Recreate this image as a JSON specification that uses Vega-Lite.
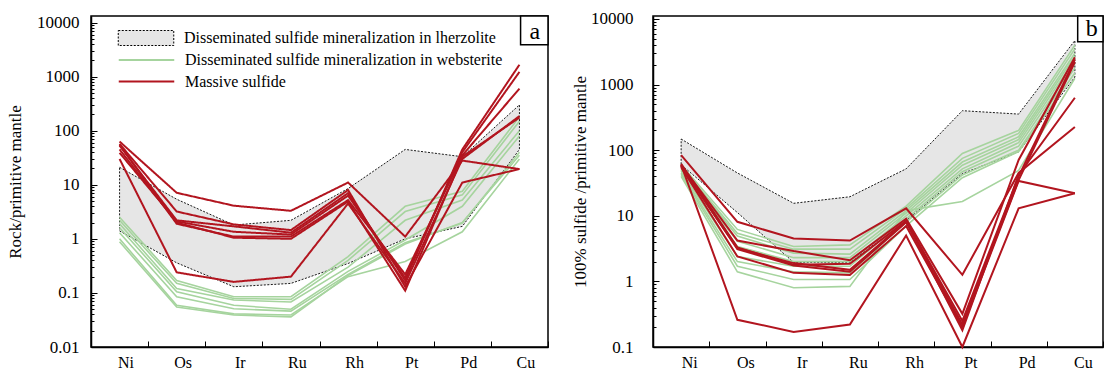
{
  "$schema": "https://vega.github.io/schema/vega-lite/v6.json",
  "padding": {"left": 5, "top": 9, "right": 0, "bottom": 0},
  "spacing": 20,
  "config": {
    "view": {"stroke": "black", "strokeWidth": 1.5},
    "font": "Liberation Serif",
    "axis": {"domainColor": "black", "domainWidth": 1.5, "tickColor": "black", "tickWidth": 1, "labelColor": "black", "titleColor": "black", "labelFont": "Liberation Serif", "titleFont": "Liberation Serif", "titleFontWeight": "normal", "grid": false, "labelFontSize": 16, "titleFontSize": 17},
    "legend": {"orient": "none", "legendX": 47, "title": null, "padding": 0, "labelFont": "Liberation Serif", "labelFontSize": 16, "labelColor": "black", "labelLimit": 500, "labelOffset": 30, "rowPadding": 0, "symbolSize": 225, "symbolOpacity": 1}
  },
  "datasets": {
    "aband": [
      {"type": "L", "el": "Ni", "lo": 1.4, "hi": 21},
      {"type": "L", "el": "Os", "lo": 0.36, "hi": 5.4},
      {"type": "L", "el": "Ir", "lo": 0.13, "hi": 1.8},
      {"type": "L", "el": "Ru", "lo": 0.15, "hi": 2.2},
      {"type": "L", "el": "Rh", "lo": 0.35, "hi": 8.5},
      {"type": "L", "el": "Pt", "lo": 1.0, "hi": 45},
      {"type": "L", "el": "Pd", "lo": 1.7, "hi": 33},
      {"type": "L", "el": "Cu", "lo": 45, "hi": 300}
    ],
    "aw": [
      {"type": "W", "id": "W1", "el": "Ni", "v": 2.5}, {"type": "W", "id": "W1", "el": "Os", "v": 0.17}, {"type": "W", "id": "W1", "el": "Ir", "v": 0.085}, {"type": "W", "id": "W1", "el": "Ru", "v": 0.085}, {"type": "W", "id": "W1", "el": "Rh", "v": 0.47}, {"type": "W", "id": "W1", "el": "Pt", "v": 4.0}, {"type": "W", "id": "W1", "el": "Pd", "v": 7.6}, {"type": "W", "id": "W1", "el": "Cu", "v": 180},
      {"type": "W", "id": "W2", "el": "Ni", "v": 2.2}, {"type": "W", "id": "W2", "el": "Os", "v": 0.15}, {"type": "W", "id": "W2", "el": "Ir", "v": 0.079}, {"type": "W", "id": "W2", "el": "Ru", "v": 0.076}, {"type": "W", "id": "W2", "el": "Rh", "v": 0.4}, {"type": "W", "id": "W2", "el": "Pt", "v": 3.2}, {"type": "W", "id": "W2", "el": "Pd", "v": 6.5}, {"type": "W", "id": "W2", "el": "Cu", "v": 150},
      {"type": "W", "id": "W3", "el": "Ni", "v": 1.9}, {"type": "W", "id": "W3", "el": "Os", "v": 0.12}, {"type": "W", "id": "W3", "el": "Ir", "v": 0.074}, {"type": "W", "id": "W3", "el": "Ru", "v": 0.068}, {"type": "W", "id": "W3", "el": "Rh", "v": 0.3}, {"type": "W", "id": "W3", "el": "Pt", "v": 2.2}, {"type": "W", "id": "W3", "el": "Pd", "v": 5.2}, {"type": "W", "id": "W3", "el": "Cu", "v": 100},
      {"type": "W", "id": "W4", "el": "Ni", "v": 1.6}, {"type": "W", "id": "W4", "el": "Os", "v": 0.105}, {"type": "W", "id": "W4", "el": "Ir", "v": 0.059}, {"type": "W", "id": "W4", "el": "Ru", "v": 0.05}, {"type": "W", "id": "W4", "el": "Rh", "v": 0.25}, {"type": "W", "id": "W4", "el": "Pt", "v": 0.95}, {"type": "W", "id": "W4", "el": "Pd", "v": 4.0}, {"type": "W", "id": "W4", "el": "Cu", "v": 80},
      {"type": "W", "id": "W5", "el": "Ni", "v": 1.3}, {"type": "W", "id": "W5", "el": "Os", "v": 0.085}, {"type": "W", "id": "W5", "el": "Ir", "v": 0.051}, {"type": "W", "id": "W5", "el": "Ru", "v": 0.046}, {"type": "W", "id": "W5", "el": "Rh", "v": 0.22}, {"type": "W", "id": "W5", "el": "Pt", "v": 0.85}, {"type": "W", "id": "W5", "el": "Pd", "v": 1.95}, {"type": "W", "id": "W5", "el": "Cu", "v": 40},
      {"type": "W", "id": "W6", "el": "Ni", "v": 1.0}, {"type": "W", "id": "W6", "el": "Os", "v": 0.059}, {"type": "W", "id": "W6", "el": "Ir", "v": 0.041}, {"type": "W", "id": "W6", "el": "Ru", "v": 0.039}, {"type": "W", "id": "W6", "el": "Rh", "v": 0.2}, {"type": "W", "id": "W6", "el": "Pt", "v": 0.38}, {"type": "W", "id": "W6", "el": "Pd", "v": 1.35}, {"type": "W", "id": "W6", "el": "Cu", "v": 30},
      {"type": "W", "id": "W7", "el": "Ni", "v": 0.88}, {"type": "W", "id": "W7", "el": "Os", "v": 0.055}, {"type": "W", "id": "W7", "el": "Ir", "v": 0.039}, {"type": "W", "id": "W7", "el": "Ru", "v": 0.036}, {"type": "W", "id": "W7", "el": "Rh", "v": 0.21}, {"type": "W", "id": "W7", "el": "Pt", "v": 0.8}, {"type": "W", "id": "W7", "el": "Pd", "v": 2.0}, {"type": "W", "id": "W7", "el": "Cu", "v": 35}
    ],
    "am": [
      {"type": "M", "id": "M1", "el": "Ni", "v": 63}, {"type": "M", "id": "M1", "el": "Os", "v": 7.1}, {"type": "M", "id": "M1", "el": "Ir", "v": 4.1}, {"type": "M", "id": "M1", "el": "Ru", "v": 3.3}, {"type": "M", "id": "M1", "el": "Rh", "v": 11}, {"type": "M", "id": "M1", "el": "Pt", "v": 1.1}, {"type": "M", "id": "M1", "el": "Pd", "v": 28}, {"type": "M", "id": "M1", "el": "Cu", "v": 19.5},
      {"type": "M", "id": "M2", "el": "Ni", "v": 57}, {"type": "M", "id": "M2", "el": "Os", "v": 3.2}, {"type": "M", "id": "M2", "el": "Ir", "v": 1.85}, {"type": "M", "id": "M2", "el": "Ru", "v": 1.45}, {"type": "M", "id": "M2", "el": "Rh", "v": 8}, {"type": "M", "id": "M2", "el": "Pt", "v": 0.13}, {"type": "M", "id": "M2", "el": "Pd", "v": 11}, {"type": "M", "id": "M2", "el": "Cu", "v": 19.5},
      {"type": "M", "id": "M3", "el": "Ni", "v": 53}, {"type": "M", "id": "M3", "el": "Os", "v": 2.2}, {"type": "M", "id": "M3", "el": "Ir", "v": 1.7}, {"type": "M", "id": "M3", "el": "Ru", "v": 1.3}, {"type": "M", "id": "M3", "el": "Rh", "v": 7}, {"type": "M", "id": "M3", "el": "Pt", "v": 0.17}, {"type": "M", "id": "M3", "el": "Pd", "v": 45}, {"type": "M", "id": "M3", "el": "Cu", "v": 1660},
      {"type": "M", "id": "M4", "el": "Ni", "v": 39}, {"type": "M", "id": "M4", "el": "Os", "v": 2.1}, {"type": "M", "id": "M4", "el": "Ir", "v": 1.35}, {"type": "M", "id": "M4", "el": "Ru", "v": 1.2}, {"type": "M", "id": "M4", "el": "Rh", "v": 6.3}, {"type": "M", "id": "M4", "el": "Pt", "v": 0.19}, {"type": "M", "id": "M4", "el": "Pd", "v": 40}, {"type": "M", "id": "M4", "el": "Cu", "v": 1220},
      {"type": "M", "id": "M5", "el": "Ni", "v": 55}, {"type": "M", "id": "M5", "el": "Os", "v": 1.9}, {"type": "M", "id": "M5", "el": "Ir", "v": 1.1}, {"type": "M", "id": "M5", "el": "Ru", "v": 1.1}, {"type": "M", "id": "M5", "el": "Rh", "v": 5.2}, {"type": "M", "id": "M5", "el": "Pt", "v": 0.22}, {"type": "M", "id": "M5", "el": "Pd", "v": 35}, {"type": "M", "id": "M5", "el": "Cu", "v": 600},
      {"type": "M", "id": "M6", "el": "Ni", "v": 30}, {"type": "M", "id": "M6", "el": "Os", "v": 0.24}, {"type": "M", "id": "M6", "el": "Ir", "v": 0.16}, {"type": "M", "id": "M6", "el": "Ru", "v": 0.2}, {"type": "M", "id": "M6", "el": "Rh", "v": 4.5}, {"type": "M", "id": "M6", "el": "Pt", "v": 0.15}, {"type": "M", "id": "M6", "el": "Pd", "v": 30}, {"type": "M", "id": "M6", "el": "Cu", "v": 186},
      {"type": "M", "id": "M7", "el": "Ni", "v": 45}, {"type": "M", "id": "M7", "el": "Os", "v": 2.0}, {"type": "M", "id": "M7", "el": "Ir", "v": 1.05}, {"type": "M", "id": "M7", "el": "Ru", "v": 1.0}, {"type": "M", "id": "M7", "el": "Rh", "v": 4.9}, {"type": "M", "id": "M7", "el": "Pt", "v": 0.11}, {"type": "M", "id": "M7", "el": "Pd", "v": 33}, {"type": "M", "id": "M7", "el": "Cu", "v": 175}
    ],
    "bband": [
      {"type": "L", "el": "Ni", "lo": 60, "hi": 148},
      {"type": "L", "el": "Os", "lo": 11.2, "hi": 45},
      {"type": "L", "el": "Ir", "lo": 1.95, "hi": 15.5},
      {"type": "L", "el": "Ru", "lo": 1.95, "hi": 19.5},
      {"type": "L", "el": "Rh", "lo": 8.4, "hi": 52},
      {"type": "L", "el": "Pt", "lo": 44, "hi": 400},
      {"type": "L", "el": "Pd", "lo": 94, "hi": 355},
      {"type": "L", "el": "Cu", "lo": 1300, "hi": 4700}
    ],
    "bw": [
      {"type": "W", "id": "G1", "el": "Ni", "v": 60}, {"type": "W", "id": "G1", "el": "Os", "v": 6.2}, {"type": "W", "id": "G1", "el": "Ir", "v": 3.4}, {"type": "W", "id": "G1", "el": "Ru", "v": 3.6}, {"type": "W", "id": "G1", "el": "Rh", "v": 14}, {"type": "W", "id": "G1", "el": "Pt", "v": 89}, {"type": "W", "id": "G1", "el": "Pd", "v": 200}, {"type": "W", "id": "G1", "el": "Cu", "v": 4000},
      {"type": "W", "id": "G2", "el": "Ni", "v": 57}, {"type": "W", "id": "G2", "el": "Os", "v": 5.4}, {"type": "W", "id": "G2", "el": "Ir", "v": 3.1}, {"type": "W", "id": "G2", "el": "Ru", "v": 3.1}, {"type": "W", "id": "G2", "el": "Rh", "v": 13}, {"type": "W", "id": "G2", "el": "Pt", "v": 75}, {"type": "W", "id": "G2", "el": "Pd", "v": 180}, {"type": "W", "id": "G2", "el": "Cu", "v": 3500},
      {"type": "W", "id": "G3", "el": "Ni", "v": 55}, {"type": "W", "id": "G3", "el": "Os", "v": 4.9}, {"type": "W", "id": "G3", "el": "Ir", "v": 2.7}, {"type": "W", "id": "G3", "el": "Ru", "v": 2.6}, {"type": "W", "id": "G3", "el": "Rh", "v": 12}, {"type": "W", "id": "G3", "el": "Pt", "v": 66}, {"type": "W", "id": "G3", "el": "Pd", "v": 160}, {"type": "W", "id": "G3", "el": "Cu", "v": 3000},
      {"type": "W", "id": "G4", "el": "Ni", "v": 52}, {"type": "W", "id": "G4", "el": "Os", "v": 4.1}, {"type": "W", "id": "G4", "el": "Ir", "v": 2.3}, {"type": "W", "id": "G4", "el": "Ru", "v": 2.3}, {"type": "W", "id": "G4", "el": "Rh", "v": 11}, {"type": "W", "id": "G4", "el": "Pt", "v": 59}, {"type": "W", "id": "G4", "el": "Pd", "v": 145}, {"type": "W", "id": "G4", "el": "Cu", "v": 2700},
      {"type": "W", "id": "G5", "el": "Ni", "v": 50}, {"type": "W", "id": "G5", "el": "Os", "v": 3.4}, {"type": "W", "id": "G5", "el": "Ir", "v": 2.0}, {"type": "W", "id": "G5", "el": "Ru", "v": 2.0}, {"type": "W", "id": "G5", "el": "Rh", "v": 10}, {"type": "W", "id": "G5", "el": "Pt", "v": 52}, {"type": "W", "id": "G5", "el": "Pd", "v": 130}, {"type": "W", "id": "G5", "el": "Cu", "v": 2400},
      {"type": "W", "id": "G6", "el": "Ni", "v": 48}, {"type": "W", "id": "G6", "el": "Os", "v": 2.4}, {"type": "W", "id": "G6", "el": "Ir", "v": 1.7}, {"type": "W", "id": "G6", "el": "Ru", "v": 1.7}, {"type": "W", "id": "G6", "el": "Rh", "v": 9}, {"type": "W", "id": "G6", "el": "Pt", "v": 47}, {"type": "W", "id": "G6", "el": "Pd", "v": 115}, {"type": "W", "id": "G6", "el": "Cu", "v": 2100},
      {"type": "W", "id": "G7", "el": "Ni", "v": 45}, {"type": "W", "id": "G7", "el": "Os", "v": 2.0}, {"type": "W", "id": "G7", "el": "Ir", "v": 1.4}, {"type": "W", "id": "G7", "el": "Ru", "v": 1.35}, {"type": "W", "id": "G7", "el": "Rh", "v": 8}, {"type": "W", "id": "G7", "el": "Pt", "v": 42}, {"type": "W", "id": "G7", "el": "Pd", "v": 100}, {"type": "W", "id": "G7", "el": "Cu", "v": 1800},
      {"type": "W", "id": "G8", "el": "Ni", "v": 43}, {"type": "W", "id": "G8", "el": "Os", "v": 1.7}, {"type": "W", "id": "G8", "el": "Ir", "v": 1.07}, {"type": "W", "id": "G8", "el": "Ru", "v": 1.07}, {"type": "W", "id": "G8", "el": "Rh", "v": 7}, {"type": "W", "id": "G8", "el": "Pt", "v": 38}, {"type": "W", "id": "G8", "el": "Pd", "v": 95}, {"type": "W", "id": "G8", "el": "Cu", "v": 1500},
      {"type": "W", "id": "G9", "el": "Ni", "v": 40}, {"type": "W", "id": "G9", "el": "Os", "v": 1.4}, {"type": "W", "id": "G9", "el": "Ir", "v": 0.8}, {"type": "W", "id": "G9", "el": "Ru", "v": 0.84}, {"type": "W", "id": "G9", "el": "Rh", "v": 12}, {"type": "W", "id": "G9", "el": "Pt", "v": 16.5}, {"type": "W", "id": "G9", "el": "Pd", "v": 49}, {"type": "W", "id": "G9", "el": "Cu", "v": 1250}
    ],
    "bm": [
      {"type": "M", "id": "B1", "el": "Ni", "v": 84}, {"type": "M", "id": "B1", "el": "Os", "v": 8.1}, {"type": "M", "id": "B1", "el": "Ir", "v": 4.5}, {"type": "M", "id": "B1", "el": "Ru", "v": 4.2}, {"type": "M", "id": "B1", "el": "Rh", "v": 13}, {"type": "M", "id": "B1", "el": "Pt", "v": 1.26}, {"type": "M", "id": "B1", "el": "Pd", "v": 45}, {"type": "M", "id": "B1", "el": "Cu", "v": 225},
      {"type": "M", "id": "B2", "el": "Ni", "v": 60}, {"type": "M", "id": "B2", "el": "Os", "v": 4.2}, {"type": "M", "id": "B2", "el": "Ir", "v": 2.9}, {"type": "M", "id": "B2", "el": "Ru", "v": 2.1}, {"type": "M", "id": "B2", "el": "Rh", "v": 9}, {"type": "M", "id": "B2", "el": "Pt", "v": 0.32}, {"type": "M", "id": "B2", "el": "Pd", "v": 71}, {"type": "M", "id": "B2", "el": "Cu", "v": 2600},
      {"type": "M", "id": "B3", "el": "Ni", "v": 62}, {"type": "M", "id": "B3", "el": "Os", "v": 3.3}, {"type": "M", "id": "B3", "el": "Ir", "v": 1.8}, {"type": "M", "id": "B3", "el": "Ru", "v": 1.85}, {"type": "M", "id": "B3", "el": "Rh", "v": 8.4}, {"type": "M", "id": "B3", "el": "Pt", "v": 0.25}, {"type": "M", "id": "B3", "el": "Pd", "v": 40}, {"type": "M", "id": "B3", "el": "Cu", "v": 2400},
      {"type": "M", "id": "B4", "el": "Ni", "v": 58}, {"type": "M", "id": "B4", "el": "Os", "v": 3.1}, {"type": "M", "id": "B4", "el": "Ir", "v": 1.75}, {"type": "M", "id": "B4", "el": "Ru", "v": 1.4}, {"type": "M", "id": "B4", "el": "Rh", "v": 8}, {"type": "M", "id": "B4", "el": "Pt", "v": 0.22}, {"type": "M", "id": "B4", "el": "Pd", "v": 35}, {"type": "M", "id": "B4", "el": "Cu", "v": 2200},
      {"type": "M", "id": "B5", "el": "Ni", "v": 55}, {"type": "M", "id": "B5", "el": "Os", "v": 2.4}, {"type": "M", "id": "B5", "el": "Ir", "v": 1.35}, {"type": "M", "id": "B5", "el": "Ru", "v": 1.25}, {"type": "M", "id": "B5", "el": "Rh", "v": 7}, {"type": "M", "id": "B5", "el": "Pt", "v": 0.2}, {"type": "M", "id": "B5", "el": "Pd", "v": 34}, {"type": "M", "id": "B5", "el": "Cu", "v": 22},
      {"type": "M", "id": "B6", "el": "Ni", "v": 60}, {"type": "M", "id": "B6", "el": "Os", "v": 0.26}, {"type": "M", "id": "B6", "el": "Ir", "v": 0.17}, {"type": "M", "id": "B6", "el": "Ru", "v": 0.22}, {"type": "M", "id": "B6", "el": "Rh", "v": 5}, {"type": "M", "id": "B6", "el": "Pt", "v": 0.1}, {"type": "M", "id": "B6", "el": "Pd", "v": 13}, {"type": "M", "id": "B6", "el": "Cu", "v": 22},
      {"type": "M", "id": "B7", "el": "Ni", "v": 57}, {"type": "M", "id": "B7", "el": "Os", "v": 3.2}, {"type": "M", "id": "B7", "el": "Ir", "v": 1.9}, {"type": "M", "id": "B7", "el": "Ru", "v": 1.5}, {"type": "M", "id": "B7", "el": "Rh", "v": 8.2}, {"type": "M", "id": "B7", "el": "Pt", "v": 0.18}, {"type": "M", "id": "B7", "el": "Pd", "v": 42}, {"type": "M", "id": "B7", "el": "Cu", "v": 630}
    ]
  },
  "hconcat": [
    {
      "width": 457,
      "height": 331,
      "resolve": {"axis": {"y": "independent"}},
      "layer": [
        {
          "data": {"name": "aband"},
          "mark": {"type": "area", "stroke": "black", "strokeDash": [2, 1.5], "strokeWidth": 0.9, "opacity": 1},
          "encoding": {
            "x": {"field": "el", "type": "nominal", "sort": ["Ni", "Os", "Ir", "Ru", "Rh", "Pt", "Pd", "Cu"], "bandPosition": 0.5,
              "scale": {"type": "band", "paddingInner": 0, "paddingOuter": 0},
              "axis": {"title": null, "tickBand": "extent", "tickSize": -6, "labelAngle": 0, "labelOffset": 6, "labelPadding": 13}},
            "y": {"field": "hi", "type": "quantitative",
              "scale": {"type": "log", "domain": [0.01, 13200], "nice": false},
              "axis": {"orient": "left", "values": [0.01, 0.1, 1, 10, 100, 1000, 10000], "format": "~g", "tickSize": -6, "labelPadding": 18, "labelFontSize": 17, "title": "Rock/primitive mantle", "titleX": -76, "titleBaseline": "middle"}},
            "y2": {"field": "lo"},
            "fill": {"field": "type", "type": "nominal",
              "scale": {"domain": ["L"], "range": ["#E6E6E6"]},
              "legend": {"legendY": 14, "symbolType": "M-3.7,-1H3.7V1H-3.7Z", "symbolStrokeColor": "black", "symbolStrokeWidth": 1, "symbolDash": [2, 1.5], "symbolFillColor": "#E6E6E6",
                "labelExpr": "'Disseminated sulfide mineralization in lherzolite'"}}
          }
        },
        {
          "data": {"name": "aw"},
          "mark": {"type": "line", "strokeWidth": 1.6},
          "encoding": {
            "x": {"field": "el", "type": "nominal", "sort": ["Ni", "Os", "Ir", "Ru", "Rh", "Pt", "Pd", "Cu"], "bandPosition": 0.5},
            "y": {"field": "v", "type": "quantitative",
              "axis": {"orient": "left", "values": [0.02, 0.03, 0.04, 0.05, 0.06, 0.07, 0.08, 0.09, 0.2, 0.3, 0.4, 0.5, 0.6, 0.7, 0.8, 0.9, 2, 3, 4, 5, 6, 7, 8, 9, 20, 30, 40, 50, 60, 70, 80, 90, 200, 300, 400, 500, 600, 700, 800, 900, 2000, 3000, 4000, 5000, 6000, 7000, 8000, 9000], "labels": false, "tickSize": -3, "domain": false, "title": null}},
            "detail": {"field": "id"},
            "stroke": {"field": "type", "type": "nominal",
              "scale": {"domain": ["W"], "range": ["#A6D49E"]},
              "legend": {"legendY": 35.5, "symbolType": "M-3.7,0H3.7", "symbolStrokeWidth": 2, "symbolStrokeColor": "#A6D49E",
                "labelExpr": "'Disseminated sulfide mineralization in websterite'"}}
          }
        },
        {
          "data": {"name": "am"},
          "mark": {"type": "line", "strokeWidth": 2, "color": "#B2151F"},
          "encoding": {
            "x": {"field": "el", "type": "nominal", "sort": ["Ni", "Os", "Ir", "Ru", "Rh", "Pt", "Pd", "Cu"], "bandPosition": 0.5},
            "y": {"field": "v", "type": "quantitative", "axis": null},
            "detail": {"field": "id"},
            "strokeDash": {"field": "type", "type": "nominal",
              "scale": {"domain": ["M"], "range": [[1, 0]]},
              "legend": {"legendY": 57, "symbolType": "M-3.7,0H3.7", "symbolStrokeWidth": 2, "symbolStrokeColor": "#B2151F",
                "labelExpr": "'Massive sulfide'"}}
          }
        },
        {
          "data": {"values": [{"label": "a"}]},
          "mark": {"type": "rect", "fill": "white", "stroke": "black", "strokeWidth": 1.5},
          "encoding": {
            "x": {"datum": "Cu", "bandPosition": 0.52},
            "x2": {"datum": "Cu", "bandPosition": 1},
            "y": {"datum": 13200, "axis": null},
            "y2": {"datum": 3900}
          }
        },
        {
          "data": {"values": [{"label": "a"}]},
          "mark": {"type": "text", "fontSize": 24, "font": "Liberation Serif", "align": "center", "baseline": "middle", "color": "black"},
          "encoding": {
            "x": {"datum": "Cu", "bandPosition": 0.77},
            "y": {"datum": 6800, "axis": null},
            "text": {"field": "label"}
          }
        }
      ]
    },
    {
      "width": 450,
      "height": 331,
      "resolve": {"axis": {"y": "independent"}},
      "layer": [
        {
          "data": {"name": "bband"},
          "mark": {"type": "area", "color": "#E6E6E6", "stroke": "black", "strokeDash": [2, 1.5], "strokeWidth": 0.9, "opacity": 1},
          "encoding": {
            "x": {"field": "el", "type": "nominal", "sort": ["Ni", "Os", "Ir", "Ru", "Rh", "Pt", "Pd", "Cu"], "bandPosition": 0.5,
              "scale": {"type": "band", "paddingInner": 0, "paddingOuter": 0},
              "axis": {"title": null, "tickBand": "extent", "tickSize": -6, "labelAngle": 0, "labelOffset": 8, "labelPadding": 13}},
            "y": {"field": "hi", "type": "quantitative",
              "scale": {"type": "log", "domain": [0.1, 11100], "nice": false},
              "axis": {"orient": "left", "values": [0.1, 1, 10, 100, 1000, 10000], "format": "~g", "tickSize": -6, "labelPadding": 26, "labelFontSize": 17, "title": "100% sulfide /primitive mantle", "titleX": -73, "titleBaseline": "middle"}},
            "y2": {"field": "lo"}
          }
        },
        {
          "data": {"name": "bw"},
          "mark": {"type": "line", "strokeWidth": 1.6, "color": "#A6D49E"},
          "encoding": {
            "x": {"field": "el", "type": "nominal", "sort": ["Ni", "Os", "Ir", "Ru", "Rh", "Pt", "Pd", "Cu"], "bandPosition": 0.5},
            "y": {"field": "v", "type": "quantitative",
              "axis": {"orient": "left", "values": [0.2, 0.3, 0.4, 0.5, 0.6, 0.7, 0.8, 0.9, 2, 3, 4, 5, 6, 7, 8, 9, 20, 30, 40, 50, 60, 70, 80, 90, 200, 300, 400, 500, 600, 700, 800, 900, 2000, 3000, 4000, 5000, 6000, 7000, 8000, 9000], "labels": false, "tickSize": -3, "domain": false, "title": null}},
            "detail": {"field": "id"}
          }
        },
        {
          "data": {"name": "bm"},
          "mark": {"type": "line", "strokeWidth": 2, "color": "#B2151F"},
          "encoding": {
            "x": {"field": "el", "type": "nominal", "sort": ["Ni", "Os", "Ir", "Ru", "Rh", "Pt", "Pd", "Cu"], "bandPosition": 0.5},
            "y": {"field": "v", "type": "quantitative", "axis": null},
            "detail": {"field": "id"}
          }
        },
        {
          "data": {"values": [{"label": "b"}]},
          "mark": {"type": "rect", "fill": "white", "stroke": "black", "strokeWidth": 1.5},
          "encoding": {
            "x": {"datum": "Cu", "bandPosition": 0.55},
            "x2": {"datum": "Cu", "bandPosition": 1},
            "y": {"datum": 11100, "axis": null},
            "y2": {"datum": 4500}
          }
        },
        {
          "data": {"values": [{"label": "b"}]},
          "mark": {"type": "text", "fontSize": 24, "font": "Liberation Serif", "align": "center", "baseline": "middle", "color": "black"},
          "encoding": {
            "x": {"datum": "Cu", "bandPosition": 0.8},
            "y": {"datum": 7000, "axis": null},
            "text": {"field": "label"}
          }
        }
      ]
    }
  ]
}
